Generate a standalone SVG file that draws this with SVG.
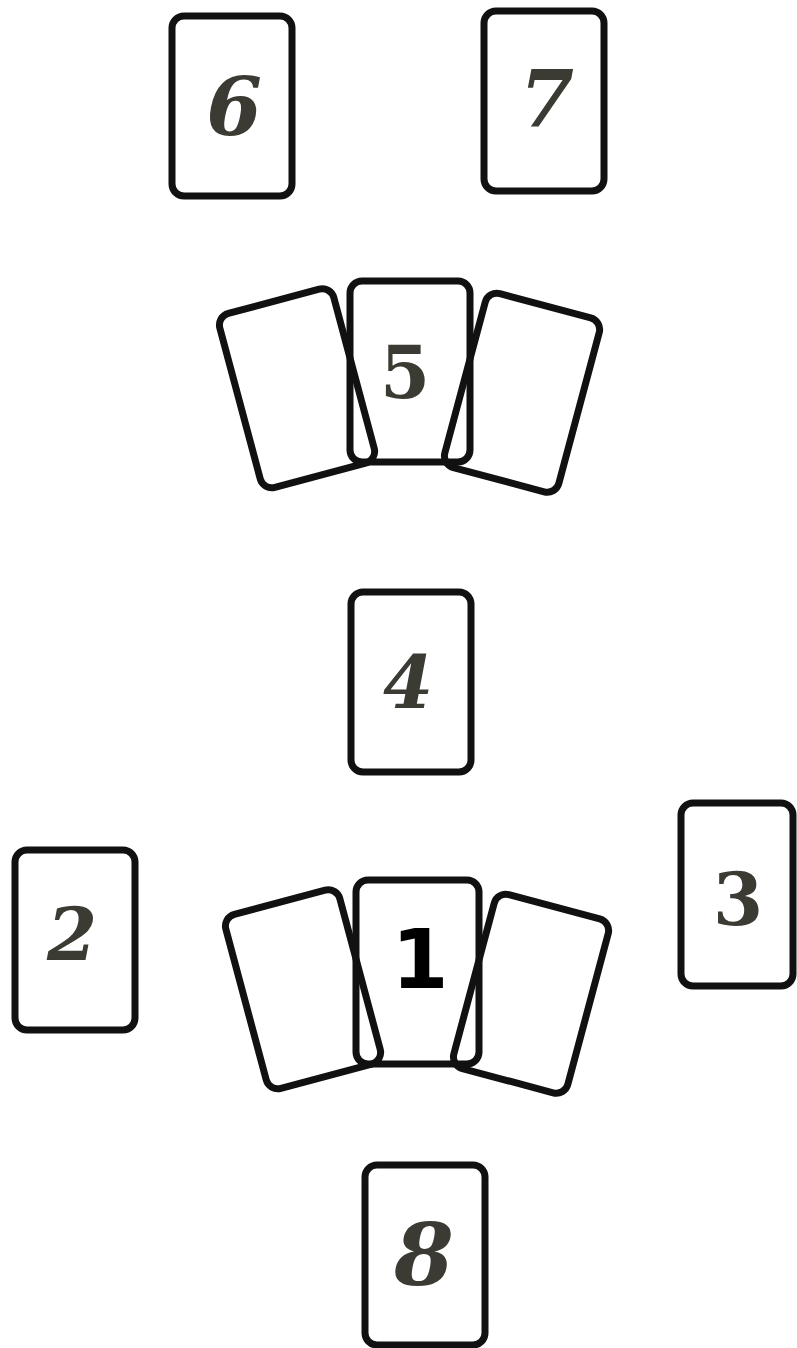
<svg xmlns="http://www.w3.org/2000/svg" width="797" height="1348" viewBox="0 0 797 1348">
  <style>
    .card { fill: none; stroke: #111; stroke-width: 7; stroke-linejoin: round; }
    .num { font-family: "DejaVu Serif", "Liberation Serif", serif; font-weight: bold; font-style: italic; fill: #3b3a33; text-anchor: middle; }
    .up { font-style: normal; }
    .one { font-family: "DejaVu Sans", "Liberation Sans", sans-serif; font-weight: bold; fill: #000; text-anchor: middle; }
  </style>
  <rect width="797" height="1348" fill="#ffffff"/>
  <g id="connectors"/>
  <g id="card-6">
    <rect class="card" x="172" y="16" width="120" height="180" rx="12"/>
    <text class="num" x="234" y="135" font-size="80">6</text>
  </g>
  <g id="card-7">
    <rect class="card" x="484" y="11" width="120" height="180" rx="12"/>
    <text class="num" x="547" y="127" font-size="78">7</text>
  </g>
  <g id="card-5">
    <rect class="card" x="-60" y="-90" width="118" height="180" rx="12" transform="translate(298 388) rotate(-15)"/>
    <rect class="card" x="-60" y="-90" width="118" height="180" rx="12" transform="translate(523 393) rotate(15)"/>
    <rect class="card" x="350" y="281" width="120" height="181" rx="12"/>
    <text class="num up" x="405" y="398" font-size="72">5</text>
  </g>
  <g id="card-4">
    <rect class="card" x="351" y="592" width="120" height="180" rx="12"/>
    <text class="num" x="408" y="708" font-size="72">4</text>
  </g>
  <g id="card-2">
    <rect class="card" x="15" y="850" width="120" height="180" rx="12"/>
    <text class="num" x="72" y="960" font-size="72">2</text>
  </g>
  <g id="card-3">
    <rect class="card" x="681" y="803" width="112" height="183" rx="12"/>
    <text class="num up" x="738" y="925" font-size="72">3</text>
  </g>
  <g id="card-1">
    <rect class="card" x="-60" y="-90" width="118" height="180" rx="12" transform="translate(304 989) rotate(-15)"/>
    <rect class="card" x="-60" y="-90" width="118" height="180" rx="12" transform="translate(532 994) rotate(15)"/>
    <rect class="card" x="356" y="880" width="123" height="184" rx="12"/>
    <text class="one" x="420" y="988" font-size="82">1</text>
  </g>
  <g id="card-8">
    <rect class="card" x="365" y="1165" width="120" height="180" rx="12"/>
    <text class="num" x="424" y="1285" font-size="86">8</text>
  </g>
</svg>
